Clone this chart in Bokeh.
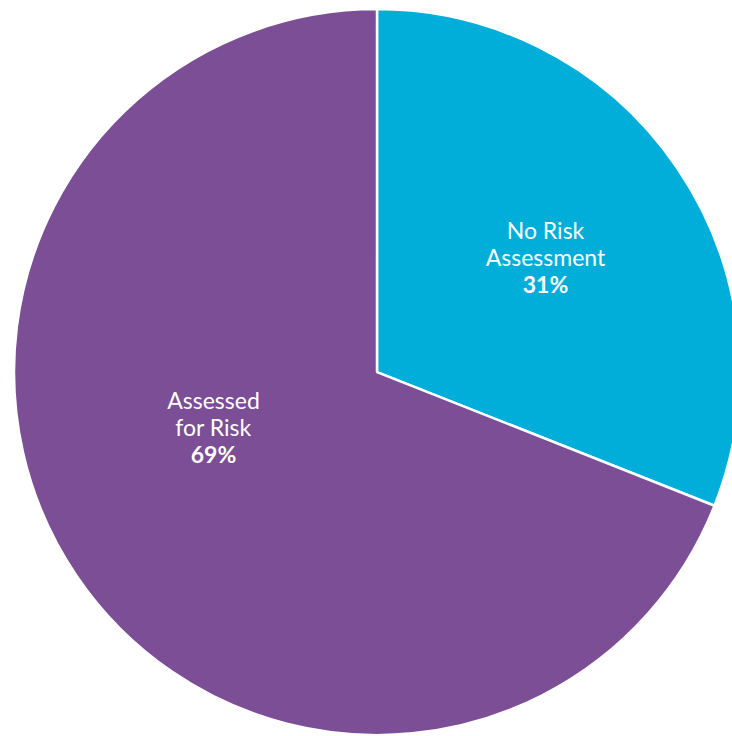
import math
from bokeh.plotting import figure
from bokeh.models import Range1d, ColumnDataSource
from bokeh.core.properties import value
from bokeh.embed import file_html
from bokeh.resources import INLINE

# ---- data ----
categories = ["No Risk Assessment", "Assessed for Risk"]
label_lines = [["No Risk", "Assessment"], ["Assessed", "for Risk"]]
shares = [31, 69]
colors = ["#00AED9", "#7C4E95"]

W, H = 732, 736
p = figure(width=W, height=H, output_backend="svg", toolbar_location=None,
           x_range=Range1d(0, W), y_range=Range1d(0, H), min_border=0,
           match_aspect=False)
p.axis.visible = False
p.grid.visible = False
p.outline_line_color = None
p.background_fill_color = "white"
p.border_fill_color = "white"

cx, cy, R = 376.5, 364.4, 363
total = sum(shares)
starts, ends = [], []
cum = 0.0
for s in shares:
    a_end = math.pi / 2 - 2 * math.pi * cum / total
    cum += s
    a_start = math.pi / 2 - 2 * math.pi * cum / total
    starts.append(a_start)
    ends.append(a_end)

src = ColumnDataSource(dict(x=[cx] * len(shares), y=[cy] * len(shares),
                            start=starts, end=ends, color=colors, cat=categories))
p.wedge(x="x", y="y", radius=R, start_angle="start", end_angle="end",
        fill_color="color", line_color="white", line_width=2.5, source=src)

# label placement offsets from centre (layout)
offsets = [(168.5, 115.6), (-163.5, -54.4)]
line_gap = 26.5
font = value("Lato")
for i, (lines, s) in enumerate(zip(label_lines, shares)):
    ox, oy = offsets[i]
    x0, y0 = cx + ox, cy + oy
    ys = [y0 + line_gap, y0]
    p.text(x=[x0] * 2, y=ys, text=lines, text_color="white", text_font=font,
           text_font_size="23px", text_align="center", text_baseline="middle")
    p.text(x=[x0], y=[y0 - line_gap - 0.5], text=[f"{s}%"], text_color="white",
           text_font=font, text_font_style="bold", text_font_size="23px",
           text_align="center", text_baseline="middle")

open("out.html", "w").write(file_html(p, INLINE))
